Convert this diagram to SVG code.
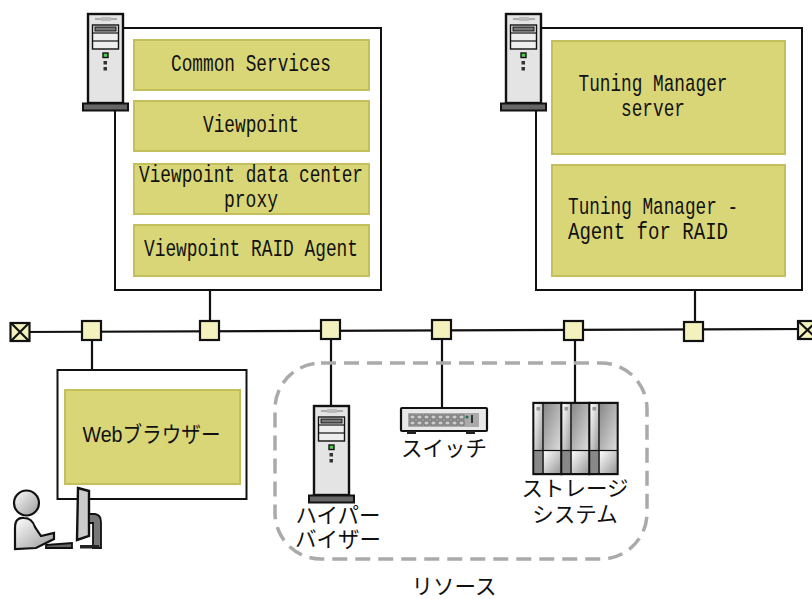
<svg xmlns="http://www.w3.org/2000/svg" width="812" height="599" viewBox="0 0 812 599">
<style>
.box{fill:#fff;stroke:#111;stroke-width:2}
.y{fill:#d9d677;stroke:#c2bf5c;stroke-width:2}
.lat{font-family:"Liberation Mono","Noto Sans CJK JP",monospace;font-size:24px;fill:#111;text-anchor:middle}
.jp{font-family:"Liberation Sans","Noto Sans CJK JP",sans-serif;font-size:21.5px;fill:#111;text-anchor:middle}
.n{fill:#f3f2bf;stroke:#111;stroke-width:2.2}
.c{fill:none;stroke:#111;stroke-width:2.2}
</style>
<defs>
<linearGradient id="g1" x1="0" y1="0" x2="1" y2="1"><stop offset="0" stop-color="#fff"/><stop offset="1" stop-color="#999"/></linearGradient>
<linearGradient id="g2" x1="0" y1="0" x2="1" y2="1"><stop offset="0" stop-color="#888"/><stop offset="1" stop-color="#ddd"/></linearGradient>
<g id="srv">
<rect x="0" y="0" width="35" height="89" fill="#e4e4e4" stroke="#111" stroke-width="2.4"/>
<rect x="7" y="4" width="22" height="2" fill="#aaa"/>
<rect x="13" y="3" width="10" height="4" fill="#bbb"/>
<rect x="4.500" y="11" width="26" height="24" fill="#eee" stroke="#111" stroke-width="1.4"/>
<line x1="4.500" y1="19" x2="30.500" y2="19" stroke="#111" stroke-width="1.2"/>
<line x1="4.500" y1="27" x2="30.500" y2="27" stroke="#111" stroke-width="1.2"/>
<rect x="7" y="13" width="21" height="4" fill="#777" stroke="#111"/>
<rect x="15" y="39" width="5" height="4.500" fill="#4fd04f" stroke="#111" stroke-width="1.400"/>
<rect x="15.500" y="47" width="3.500" height="3.500" fill="#333"/>
<rect x="15.500" y="53" width="3.500" height="3.500" fill="#333"/>
<rect x="-5" y="89.500" width="45" height="7" fill="#666" stroke="#111" stroke-width="2"/>
</g>
<g id="rack">
<rect x="0" y="0" width="28" height="71" fill="#ddd" stroke="#111" stroke-width="2.400"/>
<rect x="1" y="1" width="8" height="47" fill="url(#g1)"/>
<rect x="3" y="4" width="3.500" height="3.500" fill="#999"/>
<rect x="10" y="1" width="17" height="47" fill="url(#g2)"/>
<rect x="1" y="48" width="8" height="22" fill="#888"/>
<rect x="10" y="48" width="17" height="22" fill="url(#g1)"/>
<line x1="9.500" y1="0" x2="9.500" y2="71" stroke="#111" stroke-width="1.500"/>
<line x1="0" y1="47.500" x2="28" y2="47.500" stroke="#111" stroke-width="1.200"/>
</g>
</defs>
<g id="connectors">
<path class="c" d="M20 332L812 329"/>
<path class="c" d="M92 332V370M210 290V330M331 330V406M442 330V408M575 330V403M695 290V330"/>
</g>
<g id="node-server-a">
<rect class="box" x="115" y="28" width="266" height="262"/>
<use href="#srv" x="88" y="14"/>
<rect class="y" x="134" y="40" width="235" height="50"/>
<text class="lat" x="251" y="71" textLength="160" lengthAdjust="spacingAndGlyphs">Common Services</text>
<rect class="y" x="134" y="101" width="235" height="50"/>
<text class="lat" x="251" y="132" textLength="96" lengthAdjust="spacingAndGlyphs">Viewpoint</text>
<rect class="y" x="134" y="164" width="235" height="50"/>
<text class="lat" x="251" y="182" textLength="224" lengthAdjust="spacingAndGlyphs">Viewpoint data center</text>
<text class="lat" x="251" y="207" textLength="54" lengthAdjust="spacingAndGlyphs">proxy</text>
<rect class="y" x="134" y="225" width="235" height="51"/>
<text class="lat" x="251" y="256" textLength="214" lengthAdjust="spacingAndGlyphs">Viewpoint RAID Agent</text>
</g>
<g id="node-server-b">
<rect class="box" x="536" y="28" width="266" height="262"/>
<use href="#srv" x="506" y="14"/>
<rect class="y" x="552" y="41" width="233" height="113"/>
<text class="lat" x="653" y="91" textLength="149" lengthAdjust="spacingAndGlyphs">Tuning Manager</text>
<text class="lat" x="653" y="116" textLength="64" lengthAdjust="spacingAndGlyphs">server</text>
<rect class="y" x="552" y="165" width="233" height="111"/>
<text class="lat" x="653" y="214" textLength="170" lengthAdjust="spacingAndGlyphs">Tuning Manager -</text>
<text class="lat" x="648" y="239" textLength="160" lengthAdjust="spacingAndGlyphs">Agent for RAID</text>
</g>
<g id="bus-nodes">
<rect class="n" x="10.500" y="323" width="19" height="18"/>
<path class="c" d="M11 323L29 341M29 323L11 341"/>
<rect class="n" x="82" y="321" width="19" height="19"/>
<rect class="n" x="200" y="321" width="19" height="19"/>
<rect class="n" x="321" y="320" width="19" height="19"/>
<rect class="n" x="432" y="320" width="19" height="19"/>
<rect class="n" x="564" y="321" width="19" height="19"/>
<rect class="n" x="684" y="322" width="19" height="19"/>
<rect class="n" x="798" y="321" width="19" height="18"/>
<path class="c" d="M798 321L817 339M817 321L798 339"/>
</g>
<g id="node-browser">
<rect class="box" x="57.500" y="370" width="189" height="129"/>
<rect class="y" x="65" y="390" width="175" height="94"/>
<text class="jp" x="151.500" y="442" textLength="138" lengthAdjust="spacingAndGlyphs">Webブラウザー</text>
</g>
<g id="node-user">
<circle cx="26.500" cy="503" r="12.500" fill="url(#g1)" stroke="#111" stroke-width="2.200"/>
<path d="M15 549V528Q15 517 24 518Q32 518 35 527L41 536L54 533V539L36 548Z" fill="url(#g1)" stroke="#111" stroke-width="2.200"/>
<path d="M78 488L89 491V536L77 540Z" fill="#ccc" stroke="#111" stroke-width="2.400"/>
<path d="M89 514H95Q101 515 101 522V548H93V523H89Z" fill="#777" stroke="#111" stroke-width="1.800"/>
<rect x="80" y="545" width="19" height="3.500" fill="#222"/>
<path d="M46 545L72 543V548H46Z" fill="#666" stroke="#111" stroke-width="1.800"/>
</g>
<rect id="resources" x="275" y="363" width="372" height="196" rx="46" ry="46" fill="none" stroke="#aaa" stroke-width="3.500" stroke-dasharray="15 8"/>
<g id="node-hypervisor">
<use href="#srv" x="314" y="406"/>
<text class="jp" x="338" y="523">ハイパー</text>
<text class="jp" x="338" y="547">バイザー</text>
</g>
<g id="node-switch">
<rect x="401" y="408" width="86" height="23" rx="1" fill="#e8e8e8" stroke="#111" stroke-width="2.200"/>
<rect x="408" y="413" width="71" height="14" fill="#aaa"/>
<g fill="#ccc" stroke="#555" stroke-width="0.800">
<rect x="410" y="415" width="5" height="4"/><rect x="417" y="415" width="5" height="4"/><rect x="424" y="415" width="5" height="4"/><rect x="431" y="415" width="5" height="4"/><rect x="438" y="415" width="5" height="4"/><rect x="445" y="415" width="5" height="4"/><rect x="452" y="415" width="5" height="4"/><rect x="459" y="415" width="5" height="4"/>
<rect x="410" y="421" width="5" height="4"/><rect x="417" y="421" width="5" height="4"/><rect x="424" y="421" width="5" height="4"/><rect x="431" y="421" width="5" height="4"/><rect x="438" y="421" width="5" height="4"/><rect x="445" y="421" width="5" height="4"/><rect x="452" y="421" width="5" height="4"/><rect x="459" y="421" width="5" height="4"/>
</g>
<circle cx="467" cy="417" r="1.500" fill="#174"/>
<rect x="471" y="415" width="2" height="8" fill="#333"/>
<rect x="407" y="431" width="9" height="3" fill="#222"/>
<rect x="466" y="431" width="9" height="3" fill="#222"/>
<text class="jp" x="444" y="456">スイッチ</text>
</g>
<g id="node-storage">
<use href="#rack" x="533.500" y="403"/>
<use href="#rack" x="561.500" y="403"/>
<use href="#rack" x="589.500" y="403"/>
<text class="jp" x="575" y="496">ストレージ</text>
<text class="jp" x="575" y="522">システム</text>
</g>
<text class="jp" x="454" y="594">リソース</text>
</svg>
